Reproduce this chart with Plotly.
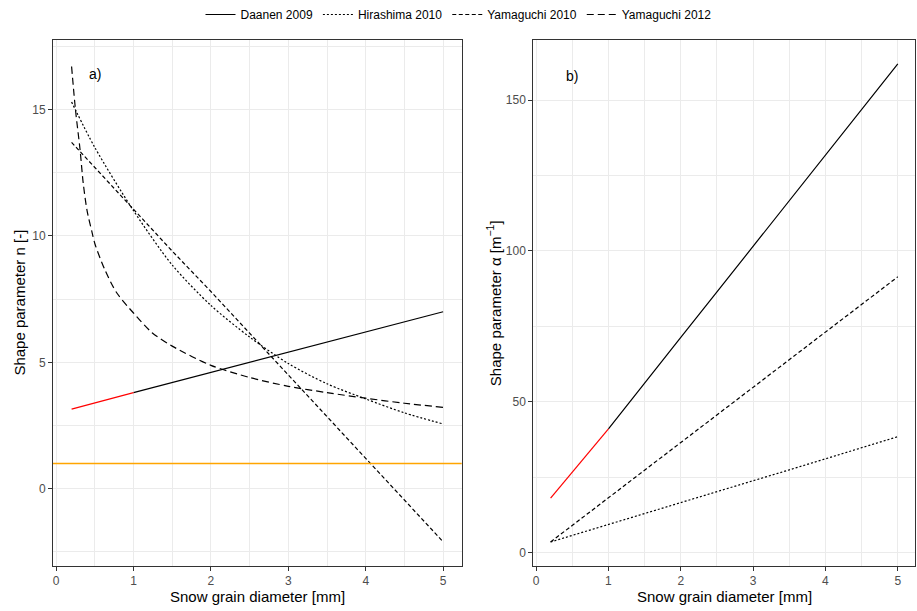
import plotly.graph_objects as go

# ---------------- data ----------------
diam = [0.2, 0.5, 1.0, 1.5, 2.0, 2.5, 3.0, 3.5, 4.0, 4.5, 5.0]

daanen_n = [3.15, 3.4, 3.8, 4.2, 4.6, 5.0, 5.4, 5.8, 6.2, 6.6, 7.0]
daanen_alpha = [18.0, 26.6, 41.0, 56.0, 71.3, 86.4, 101.5, 116.6, 131.7, 146.8, 162.0]

hirashima_n = [15.3, 13.5, 11.0, 8.85, 7.25, 6.0, 4.95, 4.15, 3.55, 3.0, 2.56]
hirashima_alpha = [3.5, 5.7, 9.3, 12.9, 16.5, 20.2, 23.8, 27.4, 31.1, 34.7, 38.4]

yamaguchi10_n = [13.7, 12.7, 11.05, 9.4, 7.8, 6.15, 4.5, 2.85, 1.2, -0.45, -2.1]
yamaguchi10_alpha = [3.5, 9.0, 18.2, 27.3, 36.5, 45.6, 54.8, 63.9, 73.1, 82.2, 91.4]

diam12 = [0.2, 0.25, 0.31, 0.35, 0.4, 0.46, 0.5, 0.63, 0.785, 1.0, 1.24, 1.5,
          2.0, 2.5, 3.0, 3.5, 4.0, 4.5, 5.0]
yamaguchi12_n = [16.7, 15.0, 13.4, 12.1, 11.0, 10.2, 9.7, 8.66, 7.74, 6.95, 6.17, 5.64,
                 4.88, 4.4, 4.05, 3.8, 3.58, 3.38, 3.22]

VALID_MIN_D = 1.0   # Daanen drawn red below this diameter
REF_N = 1.0         # orange reference line

x_ticks = [0, 1, 2, 3, 4, 5]
n_ticks = [0, 5, 10, 15]
alpha_ticks = [0, 50, 100, 150]

# ---------------- style ----------------
FONT = "Liberation Sans, Arial, sans-serif"
GRID = "#EBEBEB"
BORDER = "#333333"
TICKTXT = "#4D4D4D"
LW = 1.2
DOT = "2px,2px"
DASH10 = "4px,2.5px"
DASH12 = "7px,4px"

fig = go.Figure()

split = diam.index(VALID_MIN_D)


def add_series(xs, ys, name, dash, xa, ya, showlegend, color="black", smooth=False):
    line = dict(color=color, width=LW, dash=dash)
    if smooth:
        line.update(shape="spline", smoothing=0.8)
    fig.add_trace(go.Scatter(x=xs, y=ys, mode="lines", name=name, line=line,
                             xaxis=xa, yaxis=ya, showlegend=showlegend,
                             legendgroup=name))


# panel a
add_series(diam[split:], daanen_n[split:], "Daanen 2009", "solid", "x", "y", True)
add_series(diam[:split + 1], daanen_n[:split + 1], "Daanen 2009", "solid", "x", "y", False, "red")
add_series(diam, hirashima_n, "Hirashima 2010", DOT, "x", "y", True, smooth=True)
add_series(diam, yamaguchi10_n, "Yamaguchi 2010", DASH10, "x", "y", True)
add_series(diam12, yamaguchi12_n, "Yamaguchi 2012", DASH12, "x", "y", True, smooth=True)

# panel b
add_series(diam[split:], daanen_alpha[split:], "Daanen 2009", "solid", "x2", "y2", False)
add_series(diam[:split + 1], daanen_alpha[:split + 1], "Daanen 2009", "solid", "x2", "y2", False, "red")
add_series(diam, hirashima_alpha, "Hirashima 2010", DOT, "x2", "y2", False)
add_series(diam, yamaguchi10_alpha, "Yamaguchi 2010", DASH10, "x2", "y2", False)

fig.add_shape(type="line", xref="x domain", yref="y", x0=0, x1=1, y0=REF_N, y1=REF_N,
              line=dict(color="#FFA500", width=1.5), layer="above")

axis_common = dict(
    showline=True, linecolor=BORDER, linewidth=1, mirror=True,
    showgrid=True, gridcolor=GRID, gridwidth=1,
    ticks="outside", ticklen=4, tickcolor=BORDER, tickwidth=1,
    tickfont=dict(family=FONT, size=12, color=TICKTXT),
    zeroline=False,
)

fig.update_layout(
    width=917, height=611,
    margin=dict(l=0, r=0, t=0, b=0),
    paper_bgcolor="white", plot_bgcolor="white",
    font=dict(family=FONT, color="black"),
    xaxis=dict(domain=[0.0578, 0.5035], range=[-0.04, 5.24], tickvals=x_ticks,
               minor=dict(tick0=0.5, dtick=1, showgrid=True, gridcolor=GRID, gridwidth=0.5, ticks=""),
               anchor="y", **axis_common),
    yaxis=dict(domain=[0.074, 0.9345], range=[-3.05, 17.75], tickvals=n_ticks,
               minor=dict(tick0=2.5, dtick=5, showgrid=True, gridcolor=GRID, gridwidth=0.5, ticks=""),
               anchor="x", **axis_common),
    xaxis2=dict(domain=[0.5815, 0.998], range=[-0.04, 5.24], tickvals=x_ticks,
                minor=dict(tick0=0.5, dtick=1, showgrid=True, gridcolor=GRID, gridwidth=0.5, ticks=""),
                anchor="y2", **axis_common),
    yaxis2=dict(domain=[0.074, 0.9345], range=[-4.4, 169.9], tickvals=alpha_ticks,
                minor=dict(tick0=25, dtick=50, showgrid=True, gridcolor=GRID, gridwidth=0.5, ticks=""),
                anchor="x2", **axis_common),
    legend=dict(orientation="h", x=0.5, xanchor="center", y=1.0, yanchor="top",
                font=dict(family=FONT, size=12, color="black"), itemwidth=30,
                bgcolor="rgba(0,0,0,0)"),
    showlegend=True,
)

# axis titles as annotations
title_font = dict(family=FONT, size=15, color="black")
fig.add_annotation(text="Snow grain diameter [mm]", xref="x domain", yref="paper",
                   x=0.5, y=0.006, xanchor="center", yanchor="bottom", showarrow=False, font=title_font)
fig.add_annotation(text="Snow grain diameter [mm]", xref="x2 domain", yref="paper",
                   x=0.5, y=0.006, xanchor="center", yanchor="bottom", showarrow=False, font=title_font)
fig.add_annotation(text="Shape parameter n [-]", xref="paper", yref="y domain",
                   x=0.0215, y=0.5, xanchor="center", yanchor="middle", textangle=-90,
                   showarrow=False, font=title_font)
fig.add_annotation(text="Shape parameter α [m<sup>−1</sup>]", xref="paper", yref="y2 domain",
                   x=0.539, y=0.5, xanchor="center", yanchor="middle", textangle=-90,
                   showarrow=False, font=title_font)

# panel labels
fig.add_annotation(text="a)", x=0.5, y=16.4, xref="x", yref="y", showarrow=False,
                   font=dict(family=FONT, size=14, color="black"))
fig.add_annotation(text="b)", x=0.5, y=158, xref="x2", yref="y2", showarrow=False,
                   font=dict(family=FONT, size=14, color="black"))

fig.write_html("out.html")
